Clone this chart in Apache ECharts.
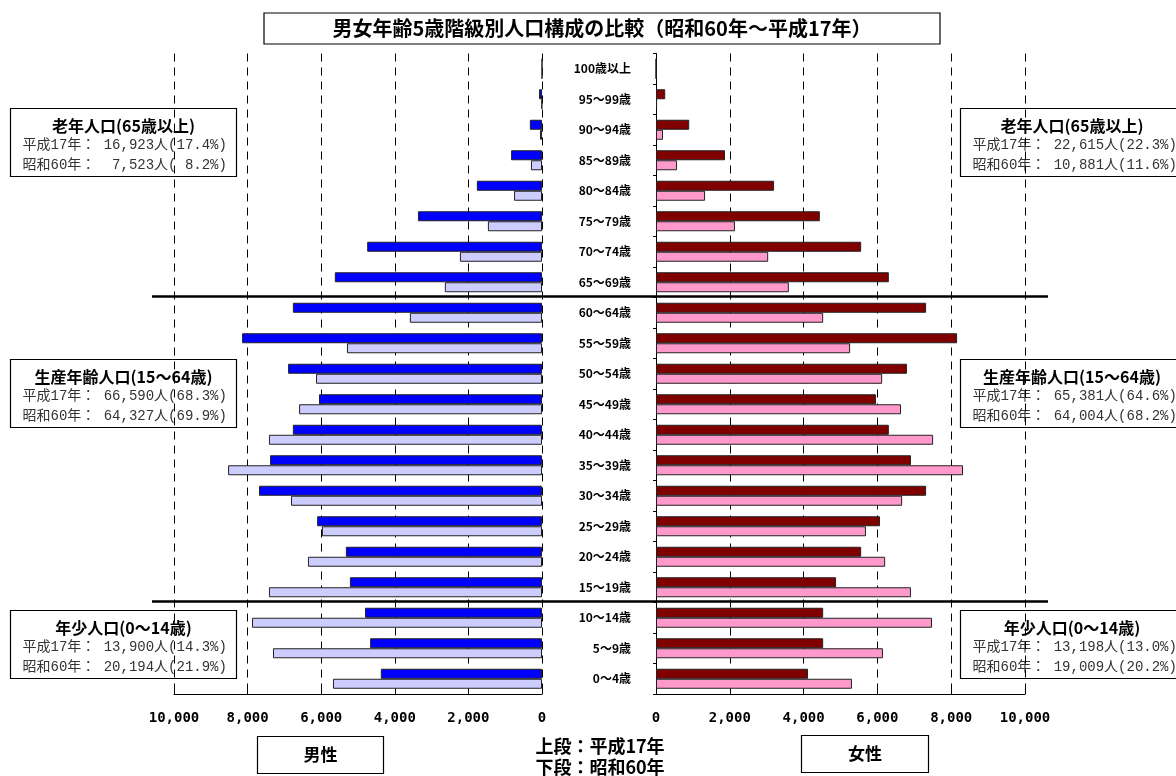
<!DOCTYPE html>
<html>
<head>
<meta charset="utf-8">
<script src="https://cdn.jsdelivr.net/npm/echarts@6/dist/echarts.min.js"></script>
<style>
  html, body { margin: 0; padding: 0; background: #fff; }
  #chart { width: 1176px; height: 776px; }
</style>
</head>
<body>
<div id="chart"></div>
<script>
// Age classes, oldest at the top of the pyramid
const ageGroups = [
  '100歳以上', '95～99歳', '90～94歳', '85～89歳', '80～84歳', '75～79歳', '70～74歳',
  '65～69歳', '60～64歳', '55～59歳', '50～54歳', '45～49歳', '40～44歳', '35～39歳',
  '30～34歳', '25～29歳', '20～24歳', '15～19歳', '10～14歳', '5～9歳', '0～4歳'
];

// Population (persons) per age class
const maleH17   = [0, 80, 330, 840, 1770, 3370, 4750, 5630, 6770, 8150, 6900, 6060, 6770, 7390, 7690, 6110, 5330, 5220, 4810, 4670, 4380];
const maleS60   = [0, 10, 55, 300, 760, 1470, 2230, 2640, 3590, 5300, 6140, 6600, 7420, 8530, 6820, 5980, 6360, 7420, 7880, 7310, 5680];
const femaleH17 = [0, 250, 900, 1870, 3200, 4440, 5560, 6310, 7320, 8160, 6800, 5960, 6310, 6910, 7320, 6070, 5560, 4880, 4530, 4530, 4120];
const femaleS60 = [0, 30, 190, 570, 1330, 2140, 3040, 3600, 4530, 5260, 6130, 6640, 7510, 8320, 6670, 5690, 6210, 6910, 7480, 6150, 5310];

const axisMax = 10000;
const axisStep = 2000;

// Summary boxes for the three age blocks
const elderlyMale     = ['老年人口(65歳以上)',   '平成17年： 16,923人(17.4%)', '昭和60年：  7,523人( 8.2%)'];
const workingMale     = ['生産年齢人口(15～64歳)', '平成17年： 66,590人(68.3%)', '昭和60年： 64,327人(69.9%)'];
const youngMale       = ['年少人口(0～14歳)',     '平成17年： 13,900人(14.3%)', '昭和60年： 20,194人(21.9%)'];
const elderlyFemale   = ['老年人口(65歳以上)',   '平成17年： 22,615人(22.3%)', '昭和60年： 10,881人(11.6%)'];
const workingFemale   = ['生産年齢人口(15～64歳)', '平成17年： 65,381人(64.6%)', '昭和60年： 64,004人(68.2%)'];
const youngFemale     = ['年少人口(0～14歳)',     '平成17年： 13,198人(13.0%)', '昭和60年： 19,009人(20.2%)'];

const chartTitle = '男女年齢5歳階級別人口構成の比較（昭和60年～平成17年）';
const legendLines = ['上段：平成17年', '下段：昭和60年'];
const sexLabels = ['男性', '女性'];

// ---- layout ----
const W = 1176, H = 776;
const plotTop = 53.5, plotBottom = 694;
const band = (plotBottom - plotTop) / ageGroups.length;
const maleLeft = 174, maleRight = 542;
const femaleLeft = 656, femaleRight = 1025;

const gothic = "'Noto Sans CJK JP', 'Noto Sans', sans-serif";
const mincho = "'Liberation Mono', 'Noto Sans CJK JP', monospace";

const chart = echarts.init(document.getElementById('chart'), null, { renderer: 'canvas' });

function valueAxis(gridIndex, inverse) {
  return {
    type: 'value', gridIndex, inverse,
    min: 0, max: axisMax, interval: axisStep,
    axisLine: { show: true, lineStyle: { color: '#000', width: 1 } },
    axisTick: { show: true, inside: true, length: 10, lineStyle: { color: '#000', width: 1 } },
    axisLabel: {
      margin: 17, color: '#000', fontSize: 14, fontWeight: 'bold',
      fontFamily: "'DejaVu Sans Mono', monospace",
      formatter: v => v.toLocaleString('en-US')
    },
    splitLine: { show: true, lineStyle: { color: '#000', width: 1, type: [8, 6] } }
  };
}

function bar(name, data, color, axisIdx) {
  return {
    name, type: 'bar', data,
    xAxisIndex: axisIdx, yAxisIndex: axisIdx,
    barWidth: 10, barGap: '0%',
    itemStyle: { color, borderColor: '#222', borderWidth: 1 },
    silent: true
  };
}

function centredText(x, y, text, font, fill) {
  return { type: 'text', x, y, z: 100,
    style: { text, font, fill: fill || '#000',
             textAlign: 'center', textVerticalAlign: 'middle', align: 'center', verticalAlign: 'middle' } };
}

function infoBox(x, y, w, lines, titleX) {
  const h = 68;
  const textX = x + 12;
  const lineStyle = t => ({ text: t, font: `14px ${mincho}`, fill: '#333',
    textAlign: 'left', textVerticalAlign: 'middle', align: 'left', verticalAlign: 'middle' });
  return {
    type: 'group', z: 100,
    children: [
      { type: 'rect', shape: { x, y, width: w, height: h },
        style: { fill: '#fff', stroke: '#000', lineWidth: 1.2 } },
      centredText(titleX, y + 17, lines[0], `bold 16px ${gothic}`),
      { type: 'text', x: textX, y: y + 37, style: lineStyle(lines[1]) },
      { type: 'text', x: textX, y: y + 57, style: lineStyle(lines[2]) }
    ]
  };
}

function labelBox(x, y, w, h, text) {
  return {
    type: 'group', z: 100,
    children: [
      { type: 'rect', shape: { x, y, width: w, height: h },
        style: { fill: '#fff', stroke: '#000', lineWidth: 1.2 } },
      centredText(x + w / 2, y + h / 2, text, `bold 17px ${gothic}`)
    ]
  };
}

// horizontal rules between the elderly / working / young blocks
const ruleYs = [plotTop + band * 8 - 1, plotTop + band * 18 - 1];

const option = {
  animation: false,
  backgroundColor: '#fff',
  grid: [
    { left: maleLeft, right: W - maleRight, top: plotTop, bottom: H - plotBottom },
    { left: femaleLeft, right: W - femaleRight, top: plotTop, bottom: H - plotBottom }
  ],
  xAxis: [valueAxis(0, true), valueAxis(1, false)],
  yAxis: [
    { type: 'category', gridIndex: 0, inverse: true, data: ageGroups,
      axisLine: { show: false }, axisTick: { show: false }, axisLabel: { show: false }, splitLine: { show: false } },
    { type: 'category', gridIndex: 1, inverse: true, data: ageGroups,
      axisLine: { show: true, lineStyle: { color: '#000', width: 1 } },
      axisTick: { show: true, length: 3, lineStyle: { color: '#000' } },
      axisLabel: { margin: 25, color: '#000', fontSize: 12, fontWeight: 'bold', fontFamily: gothic },
      splitLine: { show: false } }
  ],
  series: [
    bar('男性 平成17年', maleH17, '#0000FF', 0),
    bar('男性 昭和60年', maleS60, '#CCCCFF', 0),
    bar('女性 平成17年', femaleH17, '#800000', 1),
    bar('女性 昭和60年', femaleS60, '#FF99CC', 1)
  ],
  graphic: [
    { type: 'group', z: 100, children: [
      { type: 'rect', shape: { x: 264, y: 13, width: 676, height: 31 },
        style: { fill: '#fff', stroke: '#000', lineWidth: 1.2 } },
      centredText(602, 28.5, chartTitle, `bold 20px ${gothic}`)
    ]},
    ...ruleYs.map(y => ({ type: 'line', z: 90,
      shape: { x1: 152, y1: y, x2: 1048, y2: y },
      style: { stroke: '#000', lineWidth: 2.5 } })),
    infoBox(10.5, 108.5, 226, elderlyMale, 123.5),
    infoBox(10.5, 359.5, 226, workingMale, 123.5),
    infoBox(10.5, 610.5, 226, youngMale, 123.5),
    infoBox(960.5, 108.5, 230, elderlyFemale, 1072),
    infoBox(960.5, 359.5, 230, workingFemale, 1072),
    infoBox(960.5, 610.5, 230, youngFemale, 1072),
    labelBox(257.5, 736.5, 126, 37, sexLabels[0]),
    labelBox(801.5, 735.5, 127, 37, sexLabels[1]),
    centredText(600, 746, legendLines[0], `bold 18px ${gothic}`),
    centredText(600, 767, legendLines[1], `bold 18px ${gothic}`)
  ]
};

chart.setOption(option);
</script>
</body>
</html>
